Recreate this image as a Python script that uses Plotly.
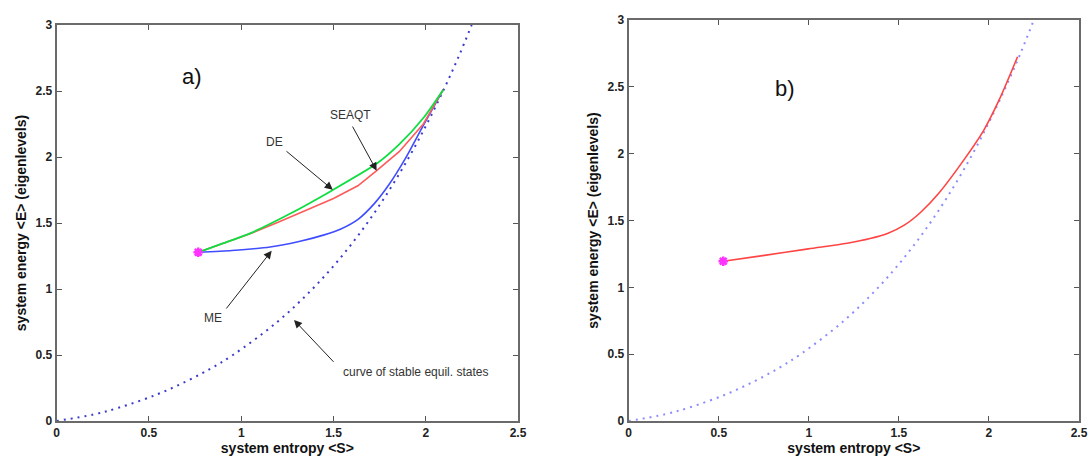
import plotly.graph_objects as go

# Stable equilibrium curve (entropy S, energy E)
stable_S = [0.0, 0.201, 0.335, 0.541, 0.702, 0.838, 0.955, 1.195, 1.386, 1.546,
            1.683, 1.803, 1.910, 2.006, 2.094, 2.175, 2.249]
stable_E = [0.0, 0.05, 0.10, 0.20, 0.30, 0.40, 0.50, 0.75, 1.00, 1.25,
            1.50, 1.75, 2.00, 2.25, 2.50, 2.75, 3.00]

# Panel a): three relaxation paths from the same initial state
de_S = [0.767, 0.90, 1.048, 1.264, 1.490, 1.735, 1.856, 1.987, 2.095]
de_E = [1.278, 1.345, 1.422, 1.570, 1.745, 1.950, 2.095, 2.295, 2.510]

seaqt_S = [0.767, 0.90, 1.048, 1.200, 1.373, 1.500, 1.632, 1.734, 1.856, 1.987, 2.095]
seaqt_E = [1.278, 1.343, 1.418, 1.505, 1.610, 1.685, 1.782, 1.896, 2.040, 2.250, 2.510]

me_S = [0.767, 0.95, 1.156, 1.319, 1.450, 1.540, 1.635, 1.720, 1.800, 1.890, 1.987, 2.095]
me_E = [1.278, 1.292, 1.318, 1.362, 1.410, 1.455, 1.530, 1.645, 1.790, 1.990, 2.240, 2.510]

# Panel b): single SEAQT path
b_S = [0.525, 0.744, 0.997, 1.213, 1.340, 1.440, 1.530, 1.620, 1.719, 1.859, 1.971, 2.056, 2.159]
b_E = [1.195, 1.237, 1.288, 1.330, 1.365, 1.405, 1.465, 1.560, 1.700, 1.950, 2.175, 2.400, 2.725]

tick_x = [0, 0.5, 1, 1.5, 2, 2.5]
tick_x_text = ["0", "0.5", "1", "1.5", "2", "2.5"]
tick_y = [0, 0.5, 1, 1.5, 2, 2.5, 3]
tick_y_text = ["0", "0.5", "1", "1.5", "2", "2.5", "3"]

FONT = "Liberation Sans, Arial, sans-serif"
W, H = 1089, 457
MAGENTA = "#ff33ff"

fig = go.Figure()

# ---- panel a)
fig.add_trace(go.Scatter(x=stable_S, y=stable_E, mode="lines", line_shape="spline",
                         line=dict(color="#3a3acc", width=2, dash="2px,5px"),
                         xaxis="x", yaxis="y", showlegend=False))
fig.add_trace(go.Scatter(x=me_S, y=me_E, mode="lines", line_shape="spline",
                         line=dict(color="#3f4dff", width=1.6, smoothing=0.6),
                         xaxis="x", yaxis="y", showlegend=False))
fig.add_trace(go.Scatter(x=seaqt_S, y=seaqt_E, mode="lines",
                         line=dict(color="#ff5a5a", width=1.6),
                         xaxis="x", yaxis="y", showlegend=False))
fig.add_trace(go.Scatter(x=de_S, y=de_E, mode="lines", line_shape="spline",
                         line=dict(color="#10dd40", width=1.8, smoothing=0.6),
                         xaxis="x", yaxis="y", showlegend=False))
fig.add_trace(go.Scatter(x=[de_S[0]], y=[de_E[0]], mode="markers",
                         marker=dict(symbol="asterisk-open", size=8, color=MAGENTA,
                                     line=dict(color=MAGENTA, width=2.5)),
                         xaxis="x", yaxis="y", showlegend=False))

# ---- panel b)
fig.add_trace(go.Scatter(x=stable_S, y=stable_E, mode="lines", line_shape="spline",
                         line=dict(color="#8c8cff", width=2, dash="2px,5px"),
                         xaxis="x2", yaxis="y2", showlegend=False))
fig.add_trace(go.Scatter(x=b_S, y=b_E, mode="lines", line_shape="spline",
                         line=dict(color="#ff4444", width=1.6, smoothing=0.8),
                         xaxis="x2", yaxis="y2", showlegend=False))
fig.add_trace(go.Scatter(x=[b_S[0]], y=[b_E[0]], mode="markers",
                         marker=dict(symbol="asterisk-open", size=8, color=MAGENTA,
                                     line=dict(color=MAGENTA, width=2.5)),
                         xaxis="x2", yaxis="y2", showlegend=False))


def axis(domain, ticks, labels, rng, anchor, title, standoff):
    return dict(domain=domain, range=rng, tickvals=ticks, ticktext=labels,
                ticks="inside", ticklen=5, tickwidth=1.2, tickcolor="#555",
                showline=True, linecolor="#6a6a6a", linewidth=2, mirror="ticks",
                showgrid=False, zeroline=False, anchor=anchor, automargin=False,
                tickfont=dict(family=FONT, size=12, color="#222", weight="bold"),
                title=dict(text=title, standoff=standoff,
                           font=dict(family=FONT, size=14, color="#111", weight="bold")))


x_title = "system entropy &lt;S&gt;"
y_title = "system energy &lt;E&gt; (eigenlevels)"

fig.update_layout(
    width=W, height=H,
    margin=dict(l=0, r=0, t=0, b=0),
    paper_bgcolor="white", plot_bgcolor="white",
    xaxis=axis([56.7 / W, 518 / W], tick_x, tick_x_text, [0, 2.5], "y", x_title, 2),
    yaxis=axis([1 - 421 / H, 1 - 25 / H], tick_y, tick_y_text, [0, 3], "x", y_title, 6),
    xaxis2=axis([628.7 / W, 1079 / W], tick_x, tick_x_text, [0, 2.5], "y2", x_title, 2),
    yaxis2=axis([1 - 421 / H, 1 - 20 / H], tick_y, tick_y_text, [0, 3], "x2", y_title, 6),
)

note_font = dict(family=FONT, size=12, color="#333")

# arrows: (head S, head E, tail S, tail E)
arrows = [
    (1.734, 1.896, 1.599, 2.242),   # SEAQT
    (1.496, 1.752, 1.237, 2.053),   # DE
    (1.165, 1.290, 0.913, 0.841),   # ME
    (1.286, 0.765, 1.508, 0.437),   # stable curve
]
for hx, hy, tx, ty in arrows:
    fig.add_annotation(x=hx, y=hy, ax=tx, ay=ty, xref="x", yref="y",
                       axref="x", ayref="y", text="", showarrow=True,
                       arrowhead=2, arrowsize=1.6, arrowwidth=1, arrowcolor="#222")

labels = [
    ("SEAQT", 1.594, 2.318),
    ("DE", 1.183, 2.116),
    ("ME", 0.848, 0.778),
    ("curve of stable equil. states", 1.947, 0.371),
]
for txt, lx, ly in labels:
    fig.add_annotation(x=lx, y=ly, xref="x", yref="y", text=txt, showarrow=False,
                       font=note_font)

fig.add_annotation(x=0.735, y=2.608, xref="x", yref="y", text="a)", showarrow=False,
                   font=dict(family=FONT, size=22, color="#111"))
fig.add_annotation(x=0.868, y=2.488, xref="x2", yref="y2", text="b)", showarrow=False,
                   font=dict(family=FONT, size=22, color="#111"))

fig.write_html("out.html")
